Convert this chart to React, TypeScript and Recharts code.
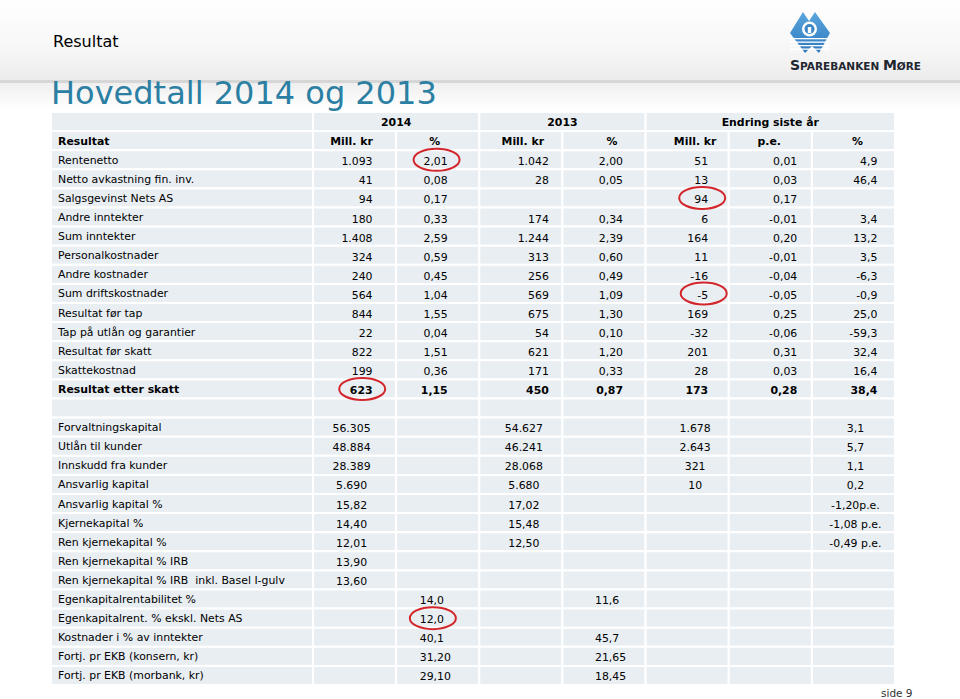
import React from "react";
import { ScatterChart, Scatter, XAxis, YAxis, ReferenceArea } from "recharts";

// upper block: resultat
const upperLabels = [
  "Rentenetto",
  "Netto avkastning fin. inv.",
  "Salgsgevinst Nets AS",
  "Andre inntekter",
  "Sum inntekter",
  "Personalkostnader",
  "Andre kostnader",
  "Sum driftskostnader",
  "Resultat før tap",
  "Tap på utlån og garantier",
  "Resultat før skatt",
  "Skattekostnad",
  "Resultat etter skatt",
];
const mill2014 = ["1.093", "41", "94", "180", "1.408", "324", "240", "564", "844", "22", "822", "199", "623"];
const pct2014 = ["2,01", "0,08", "0,17", "0,33", "2,59", "0,59", "0,45", "1,04", "1,55", "0,04", "1,51", "0,36", "1,15"];
const mill2013 = ["1.042", "28", "", "174", "1.244", "313", "256", "569", "675", "54", "621", "171", "450"];
const pct2013 = ["2,00", "0,05", "", "0,34", "2,39", "0,60", "0,49", "1,09", "1,30", "0,10", "1,20", "0,33", "0,87"];
const diffMill = ["51", "13", "94", "6", "164", "11", "-16", "-5", "169", "-32", "201", "28", "173"];
const diffPe = ["0,01", "0,03", "0,17", "-0,01", "0,20", "-0,01", "-0,04", "-0,05", "0,25", "-0,06", "0,31", "0,03", "0,28"];
const diffPct = ["4,9", "46,4", "", "3,4", "13,2", "3,5", "-6,3", "-0,9", "25,0", "-59,3", "32,4", "16,4", "38,4"];

// lower block: balanse og nøkkeltall
const lowerLabels = [
  "Forvaltningskapital",
  "Utlån til kunder",
  "Innskudd fra kunder",
  "Ansvarlig kapital",
  "Ansvarlig kapital %",
  "Kjernekapital %",
  "Ren kjernekapital %",
  "Ren kjernekapital % IRB",
  "Ren kjernekapital % IRB  inkl. Basel I-gulv",
  "Egenkapitalrentabilitet %",
  "Egenkapitalrent. % ekskl. Nets AS",
  "Kostnader i % av inntekter",
  "Fortj. pr EKB (konsern, kr)",
  "Fortj. pr EKB (morbank, kr)",
];
const lowMill2014 = ["56.305", "48.884", "28.389", "5.690", "15,82", "14,40", "12,01", "13,90", "13,60", "", "", "", "", ""];
const lowPct2014 = ["", "", "", "", "", "", "", "", "", "14,0", "12,0", "40,1", "31,20", "29,10"];
const lowMill2013 = ["54.627", "46.241", "28.068", "5.680", "17,02", "15,48", "12,50", "", "", "", "", "", "", ""];
const lowPct2013 = ["", "", "", "", "", "", "", "", "", "11,6", "", "45,7", "21,65", "18,45"];
const lowDiffMill = ["1.678", "2.643", "321", "10", "", "", "", "", "", "", "", "", "", ""];
const lowDiffPe: string[] = [];
const lowDiffPct = ["3,1", "5,7", "1,1", "0,2", "-1,20p.e.", "-1,08 p.e.", "-0,49 p.e.", "", "", "", "", "", "", ""];

// headers
const yearHeaders = ["2014", "2013", "Endring siste år"];
const yearSpans = [[0, 1], [2, 3], [4, 6]];
const subHeaders = ["Mill. kr", "%", "Mill. kr", "%", "Mill. kr", "p.e.", "%"];
const headLabel = "Resultat";

// red rings drawn on the slide
const circled = [
  { section: "upper", row: 0, col: 1 },
  { section: "upper", row: 12, col: 0 },
  { section: "upper", row: 2, col: 4 },
  { section: "upper", row: 7, col: 4 },
  { section: "lower", row: 10, col: 1 },
];

const W = 960;
const H = 699;
const margin = { top: 112, right: 65, bottom: 14, left: 51 };
const LABEL_W = 262;
const COLS = subHeaders.length;
const UPPER0 = 2;
const GAP = UPPER0 + upperLabels.length;
const LOWER0 = GAP + 1;
const ROWS = LOWER0 + lowerLabels.length;
const rowH = (H - margin.top - margin.bottom) / ROWS;
const CELL_FILL = "#e9eef3";
const FONT = "'DejaVu Sans', Verdana, sans-serif";
const FS = 10.9;

const rowLabels = ["", headLabel, ...upperLabels, "", ...lowerLabels];
const upperCols = [mill2014, pct2014, mill2013, pct2013, diffMill, diffPe, diffPct];
const lowerCols = [lowMill2014, lowPct2014, lowMill2013, lowPct2013, lowDiffMill, lowDiffPe, lowDiffPct];

// text placement per column (pixels from cell centre)
const headDx = [-3, -3, 2, 8, 8, -1, 4];
const upperEndDx = [18, 10, 28, 19, 21, 27, 24];
const lowerCfg = [
  { anchor: "middle", dx: -3 },
  { anchor: "start", dx: -18 },
  { anchor: "middle", dx: 3 },
  { anchor: "start", dx: -9 },
  { anchor: "middle", dx: 8 },
  { anchor: "middle", dx: 0 },
  { anchor: "middle", dx: 2 },
];

type Cell = {
  c: number;
  r: number;
  text: string;
  kind: string;
  bold: boolean;
  circled: boolean;
};

const isCircled = (section: string, row: number, col: number) =>
  circled.some((k) => k.section === section && k.row === row && k.col === col);

const cells: Cell[] = [];
yearHeaders.forEach((t, i) =>
  cells.push({ c: (yearSpans[i][0] + yearSpans[i][1]) / 2, r: 0, text: t, kind: "year", bold: true, circled: false })
);
subHeaders.forEach((t, c) => cells.push({ c, r: 1, text: t, kind: "head", bold: true, circled: false }));
upperCols.forEach((col, c) =>
  col.forEach((t, i) => {
    if (t)
      cells.push({
        c,
        r: UPPER0 + i,
        text: t,
        kind: "upper",
        bold: i === upperLabels.length - 1,
        circled: isCircled("upper", i, c),
      });
  })
);
lowerCols.forEach((col, c) =>
  col.forEach((t, i) => {
    if (t) cells.push({ c, r: LOWER0 + i, text: t, kind: "lower", bold: false, circled: isCircled("lower", i, c) });
  })
);

const textWidth = (s: string, bold: boolean) => {
  let w = 0;
  for (const ch of s) {
    if (/[0-9]/.test(ch)) w += bold ? 0.696 : 0.636;
    else if (ch === "," || ch === ".") w += bold ? 0.38 : 0.318;
    else if (ch === "-") w += 0.361;
    else w += 0.6;
  }
  return w * FS;
};

const CellText = (props: any) => {
  const { cx, cy } = props;
  const p: Cell = props.payload ?? props;
  let anchor = "middle";
  let dx = 0;
  let dy = 4;
  if (p.kind === "head") dx = headDx[p.c];
  else if (p.kind === "upper") {
    anchor = "end";
    dx = upperEndDx[p.c];
    dy = 5.5;
  } else if (p.kind === "lower") {
    anchor = lowerCfg[p.c].anchor;
    dx = lowerCfg[p.c].dx;
    dy = 5;
  }
  const x = cx + dx;
  const w = textWidth(p.text, p.bold);
  const mid = anchor === "end" ? x - w / 2 : anchor === "start" ? x + w / 2 : x;
  return (
    <g>
      <text
        x={x}
        y={cy + dy}
        textAnchor={anchor}
        fontFamily={FONT}
        fontSize={FS}
        fontWeight={p.bold ? "bold" : "normal"}
        fill="#000"
      >
        {p.text}
      </text>
      {p.circled && (
        <ellipse cx={mid + 1} cy={cy} rx={23} ry={11} fill="none" stroke="#d3262b" strokeWidth={2} />
      )}
    </g>
  );
};

const LabelTick = (props: any) => {
  const { x, y, payload } = props;
  const r = payload.value;
  const label = rowLabels[r] ?? "";
  const bold = r === 1 || r === GAP - 1;
  return (
    <g>
      <rect
        x={x - LABEL_W}
        y={y - rowH / 2}
        width={LABEL_W}
        height={rowH}
        fill={CELL_FILL}
        stroke="#fff"
        strokeWidth={2}
      />
      <text
        x={x - LABEL_W + 7}
        y={y + 4}
        fontFamily={FONT}
        fontSize={FS}
        fontWeight={bold ? "bold" : "normal"}
        fill="#000"
        style={{ whiteSpace: "pre" }}
      >
        {label}
      </text>
    </g>
  );
};

const rowTicks = rowLabels.map((_, i) => i);

const cellAreas: React.ReactNode[] = [];
for (let r = 0; r < ROWS; r++) {
  const spans = r === 0 ? yearSpans : subHeaders.map((_, c) => [c, c]);
  spans.forEach(([a, b]) =>
    cellAreas.push(
      <ReferenceArea
        key={`a-${r}-${a}`}
        x1={a - 0.5}
        x2={b + 0.5}
        y1={r - 0.5}
        y2={r + 0.5}
        fill={CELL_FILL}
        fillOpacity={1}
        stroke="#fff"
        strokeWidth={2}
        ifOverflow="visible"
      />
    )
  );
}

const Slide = () => (
  <svg width={W} height={H} style={{ position: "absolute", left: 0, top: 0 }}>
    <defs>
      <linearGradient id="band" x1="0" y1="0" x2="0" y2="1">
        <stop offset="0" stopColor="#ffffff" />
        <stop offset="0.6" stopColor="#f7f7f7" />
        <stop offset="1" stopColor="#ececec" />
      </linearGradient>
      <linearGradient id="under" x1="0" y1="0" x2="0" y2="1">
        <stop offset="0" stopColor="#efefef" />
        <stop offset="1" stopColor="#ffffff" />
      </linearGradient>
      <linearGradient id="logo" x1="0" y1="0" x2="0" y2="1">
        <stop offset="0" stopColor="#5aa6dd" />
        <stop offset="1" stopColor="#2e78bf" />
      </linearGradient>
    </defs>
    <rect width={W} height={H} fill="#fff" />
    <rect x={0} y={0} width={W} height={80} fill="url(#band)" />
    <rect x={0} y={80} width={W} height={3} fill="#d6d6d6" />
    <rect x={0} y={83} width={W} height={26} fill="url(#under)" />
    <text x={53} y={47} fontFamily={FONT} fontSize={16} fill="#000">
      Resultat
    </text>
    <text x={51} y={104} fontFamily={FONT} fontSize={32} fill="#2b7fa3">
      Hovedtall 2014 og 2013
    </text>
    <g>
      <path d="M790,33 L803,12 L809,21 L815,12 L830,33 L819,53 L812,46 L805,53 Z" fill="url(#logo)" />
      <circle cx={809.5} cy={29} r={7.5} fill="#fff" />
      <circle cx={809.5} cy={29} r={5} fill="#3b86c8" />
      <rect x={807.8} y={27} width={3.4} height={6} fill="#fff" />
      {[38, 41.5, 45, 48.5].map((y) => (
        <rect key={y} x={790} y={y} width={40} height={1.3} fill="#fff" />
      ))}
      <text x={790} y={70} fontFamily={FONT} fontWeight="bold" fill="#1f2630">
        <tspan fontSize={14}>S</tspan>
        <tspan fontSize={10.5}>PAREBANKEN </tspan>
        <tspan fontSize={14}>M</tspan>
        <tspan fontSize={10.5}>ØRE</tspan>
      </text>
    </g>
    <text x={881} y={697} fontFamily={FONT} fontSize={10.5} fill="#333">
      side 9
    </text>
  </svg>
);

export default function App() {
  return (
    <div style={{ position: "absolute", left: 0, top: 0, width: W, height: H, overflow: "hidden" }}>
      <Slide />
      <div style={{ position: "absolute", left: 0, top: 0 }}>
        <ScatterChart width={W} height={H} margin={margin}>
          <XAxis type="number" dataKey="c" domain={[-0.5, COLS - 0.5]} allowDataOverflow hide />
          <YAxis
            type="number"
            dataKey="r"
            domain={[-0.5, ROWS - 0.5]}
            allowDataOverflow
            reversed
            ticks={rowTicks}
            interval={0}
            width={LABEL_W}
            tick={(p: any) => <LabelTick {...p} />}
            tickLine={false}
            axisLine={false}
            tickSize={0}
            tickMargin={0}
          />
          {cellAreas}
          <Scatter data={cells} shape={CellText} isAnimationActive={false} />
        </ScatterChart>
      </div>
    </div>
  );
}
